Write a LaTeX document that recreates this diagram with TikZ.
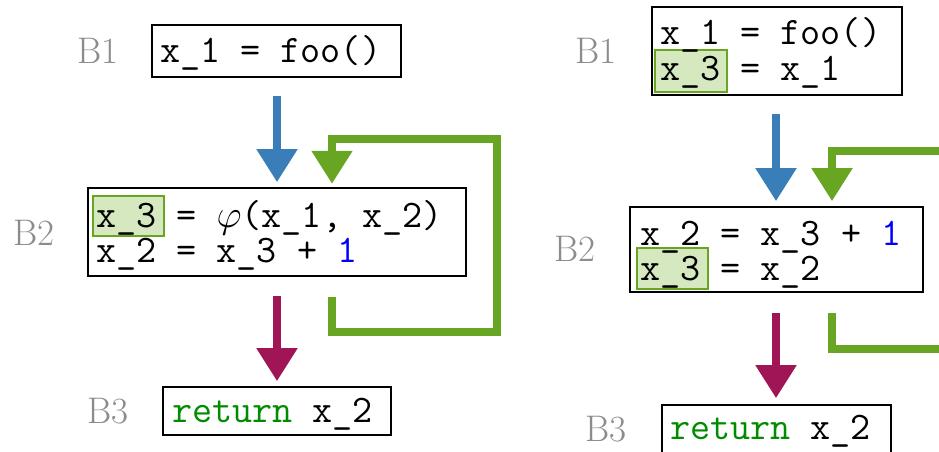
\documentclass[tikz,border=0pt]{standalone}
\usepackage{graphicx}
\usetikzlibrary{arrows.meta,calc}
\definecolor{flowblue}{RGB}{58,126,185}
\definecolor{flowgreen}{RGB}{104,165,34}
\definecolor{flowpurple}{RGB}{160,21,85}
\definecolor{hlfill}{RGB}{213,232,191}
\definecolor{labelgray}{RGB}{140,140,140}
\definecolor{kwgreen}{RGB}{0,140,0}
\newcommand{\bigphi}{\scalebox{1.567}{\fontsize{24.88}{26}\selectfont$\varphi$}}
\begin{document}
\begin{tikzpicture}[x=1pt,y=-1pt,
  box/.style={draw=black,line width=1.6pt,inner sep=0pt},
  code/.style={anchor=base west,inner sep=0pt,font=\fontsize{39}{35}\selectfont\ttfamily},
  blk/.style={anchor=center,inner sep=0pt,text=labelgray,font=\fontsize{37}{40}\selectfont},
  hl/.style={draw=flowgreen,fill=hlfill,line width=1.2pt,inner sep=0pt},
  flow/.style={line width=8pt,line join=miter,-{Triangle[width=39pt,length=33pt]}},
]
\useasboundingbox (0,0) rectangle (939,452);
\fill[white] (0,0) rectangle (939,452);
\clip (0,0) rectangle (939,452);

% ---------- left diagram ----------
\node[box,minimum width=249pt,minimum height=52pt] (b1L) at (276.5,51) {};
\node[box,minimum width=378pt,minimum height=88pt] (b2L) at (277,232) {};
\node[box,minimum width=228pt,minimum height=48pt] (b3L) at (277,411) {};
\node[hl,minimum width=71pt,minimum height=40pt] (hL) at (128.5,216) {};

\node[code] (t1L) at (160,63) {x\_1 = foo()};
\node[code] (t2La) at (96,227) {x\_3 = \bigphi(x\_1, x\_2)};
\node[code] (t2Lb) at (96,262) {x\_2 = x\_3 + \textcolor{blue}{1}};
\node[code] (t3L) at (172,422) {\textcolor{kwgreen}{return} x\_2};

\node[blk] (l1L) at (98,51) {B1};
\node[blk] (l2L) at (34,233) {B2};
\node[blk] (l3L) at (108,411) {B3};

\draw[flow,color=flowblue] ($(b2L.north)+(0,-91)$) -- ($(b2L.north)+(0,-5)$);
\draw[flow,color=flowpurple] ($(b2L.south)+(0,19)$) -- ($(b3L.north)+(0,-5)$);
\draw[flow,color=flowgreen] ($(b2L.south)+(55,20)$) -- ++(0,35) -- ++(165,0)
  -- ++(0,-193) -- ++(-165,0) -- ++(0,45);

% ---------- right diagram ----------
\node[box,minimum width=250pt,minimum height=88pt] (b1R) at (777,51) {};
\node[box,minimum width=293pt,minimum height=85pt] (b2R) at (776.5,249.5) {};
\node[box,minimum width=229pt,minimum height=49pt] (b3R) at (776.5,429.5) {};
\node[hl,minimum width=72pt,minimum height=42pt] (hR1) at (691,71) {};
\node[hl,minimum width=71pt,minimum height=41pt] (hR2) at (672.5,268.5) {};

\node[code] (t1Ra) at (660,45) {x\_1 = foo()};
\node[code] (t1Rb) at (660,81) {x\_3 = x\_1};
\node[code] (t2Ra) at (640,245) {x\_2 = x\_3 + \textcolor{blue}{1}};
\node[code] (t2Rb) at (640,280) {x\_3 = x\_2};
\node[code] (t3R) at (670,439) {\textcolor{kwgreen}{return} x\_2};

\node[blk] (l1R) at (596,51) {B1};
\node[blk] (l2R) at (575,249) {B2};
\node[blk] (l3R) at (606,429) {B3};

\draw[flow,color=flowblue] ($(b2R.north)+(-0.5,-92)$) -- ($(b2R.north)+(-0.5,-5)$);
\draw[flow,color=flowpurple] ($(b2R.south)+(-0.5,20)$) -- ($(b3R.north)+(-0.5,-6)$);
\coordinate (gin) at ($(b2R.north)+(173.5,-55)$);
\coordinate (gout) at ($(b2R.south)+(173.5,56)$);
\draw[flow,color=flowgreen] (gin) -- ++(-118,0) -- ++(0,50);
\draw[line width=8pt,line join=miter,color=flowgreen] ($(b2R.south)+(55.5,20)$) -- ++(0,36) -- (gout);
\end{tikzpicture}
\end{document}
